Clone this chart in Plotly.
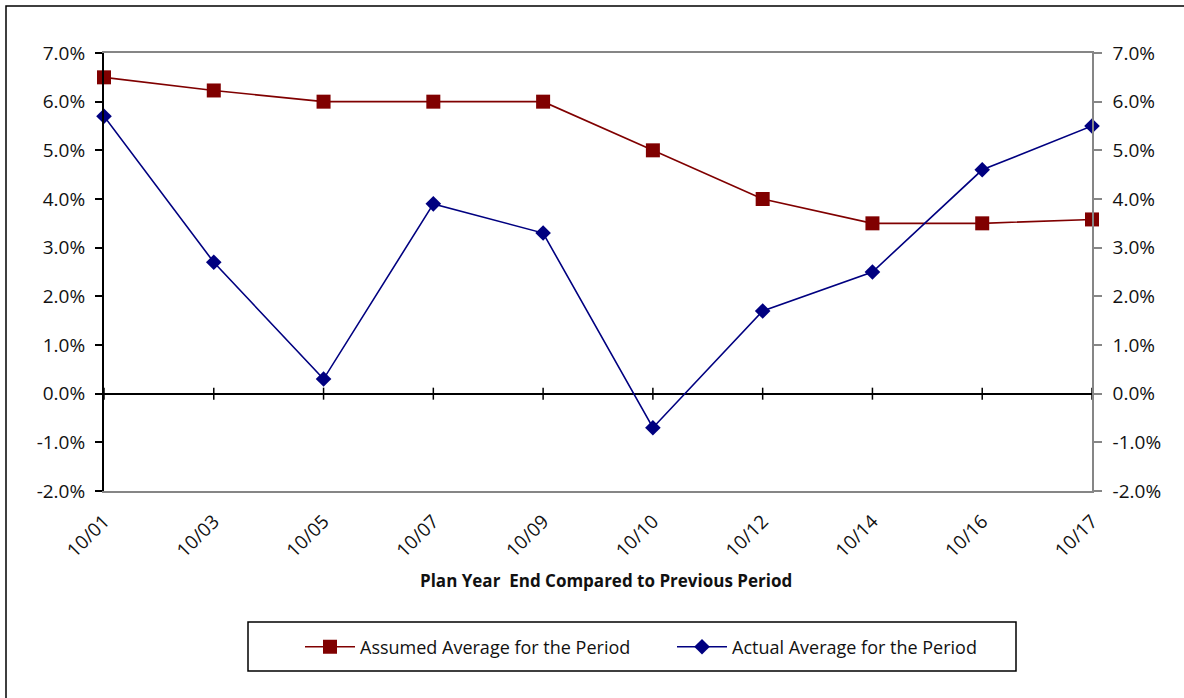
import plotly.graph_objects as go

# Plan-year end labels and average return rates (percent)
periods = ["10/01", "10/03", "10/05", "10/07", "10/09", "10/10", "10/12", "10/14", "10/16", "10/17"]
assumed_avg = [6.5, 6.23, 6.0, 6.0, 6.0, 5.0, 4.0, 3.5, 3.5, 3.58]
actual_avg = [5.7, 2.7, 0.3, 3.9, 3.3, -0.7, 1.7, 2.5, 4.6, 5.5]
y_ticks = [-2, -1, 0, 1, 2, 3, 4, 5, 6, 7]
y_labels = [f"{v:.1f}%" for v in y_ticks]

W, H = 1184, 698
L, R, T, B = 104, 1092, 53, 491  # plot area in pixels

FONT = "Open Sans"
TEXT = "#111111"
DARK_RED = "#800000"
NAVY = "#000080"
GREY = "#868686"


def px_x(p):
    return (p - L) / (R - L)


def px_y(p):
    return (B - p) / (B - T)


fig = go.Figure()
fig.add_trace(go.Scatter(
    x=periods, y=assumed_avg, name="Assumed Average for the Period",
    mode="lines+markers", cliponaxis=False, legend="legend",
    line=dict(color=DARK_RED, width=1.6),
    marker=dict(symbol="square", size=14, color=DARK_RED),
))
fig.add_trace(go.Scatter(
    x=periods, y=actual_avg, name="Actual Average for the Period",
    mode="lines+markers", cliponaxis=False, legend="legend2",
    line=dict(color=NAVY, width=1.6),
    marker=dict(symbol="diamond", size=12, color=NAVY),
))
# invisible trace to carry the right-hand axis
fig.add_trace(go.Scatter(x=periods, y=actual_avg, yaxis="y2", mode="none",
                         showlegend=False, hoverinfo="skip"))

shapes = []
# category tick marks crossing the zero line
for i in range(len(periods)):
    shapes.append(dict(type="line", xref="x", yref="y", x0=i, x1=i,
                       ysizemode="pixel", yanchor=0, y0=-6, y1=6,
                       line=dict(color="black", width=1.5)))
# legend frame
shapes.append(dict(type="rect", xref="paper", yref="paper",
                   x0=px_x(248), x1=px_x(1016), y0=px_y(671), y1=px_y(622),
                   line=dict(color="black", width=1.5), fillcolor="rgba(0,0,0,0)"))
# outer chart frame
shapes.append(dict(type="rect", xref="paper", yref="paper",
                   x0=px_x(6), x1=px_x(1200), y0=px_y(720), y1=px_y(6),
                   line=dict(color="black", width=1.5), fillcolor="rgba(0,0,0,0)"))

legend_style = dict(orientation="h", xanchor="left", yanchor="middle",
                    y=px_y(647), bgcolor="rgba(0,0,0,0)", borderwidth=0,
                    itemwidth=50,
                    font=dict(family=FONT, size=18, color=TEXT))

fig.update_layout(
    width=W, height=H,
    margin=dict(l=L, r=W - R, t=T, b=H - B, autoexpand=False),
    paper_bgcolor="white", plot_bgcolor="white",
    font=dict(family=FONT, size=18, color=TEXT),
    showlegend=True,
    legend=dict(legend_style, x=px_x(300)),
    legend2=dict(legend_style, x=px_x(672)),
    xaxis=dict(type="category", range=[0, len(periods) - 1],
               showgrid=False, zeroline=False,
               showline=True, linecolor=GREY, linewidth=1.5, mirror=True,
               ticks="", tickangle=-45, ticklabelstandoff=10,
               tickfont=dict(family=FONT, size=19, color=TEXT)),
    yaxis=dict(range=[-2, 7], tickvals=y_ticks, ticktext=y_labels,
               showgrid=False, zeroline=True, zerolinecolor="black", zerolinewidth=2,
               showline=True, linecolor="black", linewidth=2,
               ticks="outside", ticklen=7, tickwidth=1.5, tickcolor="black",
               ticklabelstandoff=6,
               tickfont=dict(family=FONT, size=19, color=TEXT)),
    yaxis2=dict(range=[-2, 7], tickvals=y_ticks, ticktext=y_labels,
                overlaying="y", side="right", showgrid=False, zeroline=False,
                showline=True, linecolor=GREY, linewidth=1.5,
                ticks="outside", ticklen=8, tickwidth=1.5, tickcolor=GREY,
                ticklabelstandoff=7,
                tickfont=dict(family=FONT, size=19, color=TEXT)),
    shapes=shapes,
    annotations=[dict(text="<b>Plan Year  End Compared to Previous Period</b>",
                      xref="paper", yref="paper", x=px_x(606), y=px_y(580),
                      xanchor="center", yanchor="middle", showarrow=False,
                      font=dict(family=FONT, size=17, color=TEXT))],
)

fig.write_html("out.html")
